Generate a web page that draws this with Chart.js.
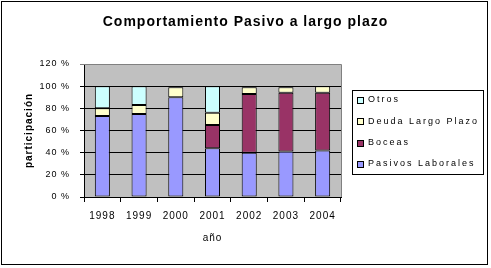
<!DOCTYPE html>
<html lang="es">
<head>
    <meta charset="UTF-8">
    <title>Comportamiento Pasivo a largo plazo</title>
    <script src="https://cdn.jsdelivr.net/npm/chart.js"></script>
    <style>
        body { margin: 0; background: #fff; }
        #wrap { width: 491px; height: 268px; }
    </style>
</head>
<body>
    <div id="wrap"><canvas id="pasivoChart" width="491" height="268"></canvas></div>

    <script>
        // datos (% de participacion), null = sin tramo
        const years = ['1998', '1999', '2000', '2001', '2002', '2003', '2004'];
        const pasivosLaborales = [73, 75, 90, 44, 40, 41, 42];
        const boceas = [null, null, null, 21, 53, 53, 52];
        const deudaLargoPlazo = [7, 8, 9, 11, 6, 5, 6];
        const otros = [20, 17, 1, 24, 1, 1, null];
        const yTicks = [0, 20, 40, 60, 80, 100, 120];

        const FONT = 'Arial, "Liberation Sans", sans-serif';

        // espaciado de letras como en el original
        const spacing = {
            id: 'spacing',
            beforeUpdate(chart) { chart.ctx.letterSpacing = '1px'; },
            beforeLayout(chart) { chart.ctx.letterSpacing = '1px'; },
            beforeDraw(chart) { chart.ctx.letterSpacing = '1px'; }
        };

        // fondo, marco exterior, area gris y leyenda
        const frame = {
            id: 'frame',
            beforeDraw(chart) {
                const ctx = chart.ctx;
                const a = chart.chartArea;
                ctx.save();
                ctx.fillStyle = '#fff';
                ctx.fillRect(0, 0, chart.width, chart.height);
                ctx.strokeStyle = '#000';
                ctx.lineWidth = 1;
                ctx.strokeRect(1.5, 1.5, 486, 263);
                ctx.fillStyle = '#c0c0c0';
                ctx.fillRect(a.left, a.top, a.right - a.left, a.bottom - a.top);
                ctx.restore();
            },
            afterDraw(chart) {
                const ctx = chart.ctx;
                const a = chart.chartArea;
                ctx.save();
                ctx.strokeStyle = '#808080';
                ctx.beginPath();
                ctx.moveTo(a.left, a.top + 0.5);
                ctx.lineTo(a.right + 0.5, a.top + 0.5);
                ctx.lineTo(a.right + 0.5, a.bottom);
                ctx.stroke();

                const lx = 352, ly = 90, lw = 131, lh = 84;
                ctx.strokeStyle = '#000';
                ctx.strokeRect(lx + 0.5, ly + 0.5, lw, lh);
                ctx.font = '9px ' + FONT;
                ctx.letterSpacing = '2px';
                ctx.textBaseline = 'middle';
                ctx.textAlign = 'left';
                const items = chart.data.datasets.slice().reverse();
                items.forEach((ds, i) => {
                    const cy = ly + 10 + i * 21.3;
                    ctx.fillStyle = ds.backgroundColor;
                    ctx.fillRect(lx + 5.5, Math.round(cy) - 2.5, 6, 6);
                    ctx.strokeRect(lx + 5.5, Math.round(cy) - 2.5, 6, 6);
                    ctx.fillStyle = '#000';
                    ctx.fillText(ds.label, lx + 16, cy);
                });
                ctx.restore();
            }
        };

        const ctx = document.getElementById('pasivoChart').getContext('2d');
        new Chart(ctx, {
            type: 'bar',
            data: {
                labels: years,
                datasets: [
                    { label: 'Pasivos Laborales', data: pasivosLaborales, backgroundColor: '#9999ff' },
                    { label: 'Boceas', data: boceas, backgroundColor: '#993366' },
                    { label: 'Deuda Largo Plazo', data: deudaLargoPlazo, backgroundColor: '#ffffcc' },
                    { label: 'Otros', data: otros, backgroundColor: '#ccffff' }
                ].map(d => Object.assign(d, {
                    borderColor: '#000',
                    borderWidth: 1,
                    borderSkipped: false,
                    categoryPercentage: 1,
                    barPercentage: 0.41
                }))
            },
            options: {
                responsive: false,
                animation: false,
                layout: { padding: { left: 0, right: 0, top: 0, bottom: 18 } },
                plugins: {
                    legend: { display: false },
                    tooltip: { enabled: false },
                    title: {
                        display: true,
                        text: 'Comportamiento Pasivo a largo plazo',
                        color: '#000',
                        font: { family: FONT, size: 14, weight: 'bold' },
                        padding: { top: 14, bottom: 33.2 }
                    }
                },
                scales: {
                    x: {
                        stacked: true,
                        grid: {
                            offset: true,
                            drawOnChartArea: false,
                            color: '#000',
                            tickLength: 5
                        },
                        border: { color: '#000' },
                        ticks: {
                            color: '#000',
                            padding: 8,
                            font: { family: FONT, size: 10 },
                            maxRotation: 0
                        },
                        title: {
                            display: true,
                            text: 'año',
                            color: '#000',
                            font: { family: FONT, size: 10 },
                            padding: { top: 4, bottom: 6 }
                        },
                        afterFit(scale) { scale.height = 53; }
                    },
                    y: {
                        stacked: true,
                        min: 0,
                        max: 120,
                        afterBuildTicks(scale) { scale.ticks = yTicks.map(v => ({ value: v })); },
                        grid: {
                            color: c => (c.tick && c.tick.value === 120 ? '#808080' : '#000'),
                            tickLength: 4
                        },
                        border: { color: '#000' },
                        ticks: {
                            color: '#000',
                            padding: 10,
                            font: { family: FONT, size: 9 },
                            callback: v => v + ' %'
                        },
                        title: {
                            display: true,
                            text: 'participación',
                            color: '#000',
                            font: { family: FONT, size: 10, weight: 'bold' },
                            padding: { top: 23, bottom: 0 }
                        },
                        afterFit(scale) { scale.width = 84; }
                    },
                    // eje vacio que reserva el hueco de la leyenda
                    legendSpace: {
                        type: 'linear',
                        position: 'right',
                        display: true,
                        grid: { display: false },
                        border: { display: false },
                        ticks: { display: false },
                        afterFit(scale) { scale.width = 150; }
                    }
                }
            },
            plugins: [spacing, frame]
        });
    </script>
</body>
</html>
